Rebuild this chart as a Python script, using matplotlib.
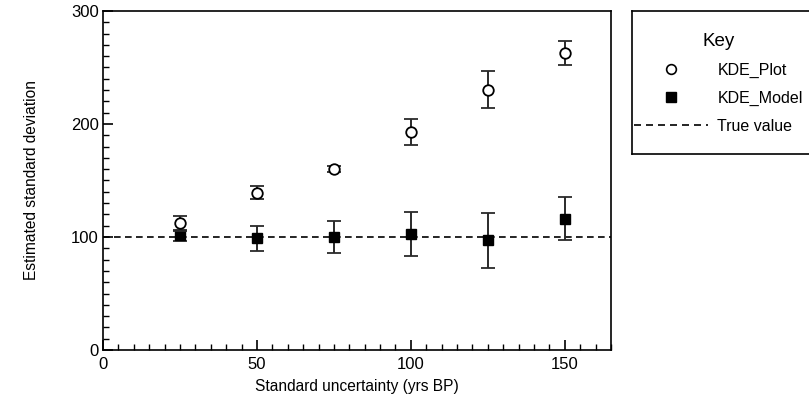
import matplotlib.pyplot as plt
from matplotlib.lines import Line2D
from matplotlib.ticker import MultipleLocator

plt.rcParams['font.family'] = ['Liberation Sans', 'DejaVu Sans']

# data
uncertainty = [25, 50, 75, 100, 125, 150]
kde_plot = [112, 139, 160, 192.5, 230.5, 263]
kde_plot_err = [7, 5.7, 2.5, 11.5, 16.5, 10.5]
kde_model = [101.5, 99, 100, 103, 97, 116]
kde_model_err = [5, 11, 14, 19.5, 24, 19]
true_value = 100

fig = plt.figure(figsize=(8.09, 4.04), dpi=100)
ax = fig.add_axes([103 / 809, 54 / 404, 508 / 809, 339 / 404])

err_kw = dict(ecolor='#2a2a2a', elinewidth=1.4, capsize=5, capthick=1.3, linestyle='none')
ax.axhline(true_value, color='black', lw=1.2, ls=(0, (4, 2.6)), zorder=1)
ax.errorbar(uncertainty, kde_model, yerr=kde_model_err, marker='s', ms=6.8,
            mfc='black', mec='black', zorder=3, **err_kw)
ax.errorbar(uncertainty, kde_plot, yerr=kde_plot_err, marker='o', ms=7.6,
            mfc='white', mec='black', mew=1.3, zorder=4, **err_kw)

ax.set_xlim(0, 165)
ax.set_ylim(0, 300)
ax.xaxis.set_major_locator(MultipleLocator(50))
ax.xaxis.set_minor_locator(MultipleLocator(5))
ax.yaxis.set_major_locator(MultipleLocator(100))
ax.yaxis.set_minor_locator(MultipleLocator(10))
ax.tick_params(which='both', direction='in', top=False, right=False, labelsize=12)
ax.tick_params(which='major', length=7, width=1.2, pad=3)
ax.tick_params(axis='x', which='major', pad=5)
ax.tick_params(which='minor', length=4, width=1)
for s in ax.spines.values():
    s.set_linewidth(1.2)

ax.set_xlabel('Standard uncertainty (yrs BP)', fontsize=11.2, labelpad=5)
ax.set_ylabel('Estimated standard deviation', fontsize=11.2, labelpad=23)

# key box, running off the right edge like the original
kax = fig.add_axes([632 / 809, 250 / 404, 200 / 809, 143 / 404])
kax.set_xticks([])
kax.set_yticks([])
for s in kax.spines.values():
    s.set_linewidth(1.2)

handles = [
    Line2D([], [], marker='o', ls='none', ms=7, mfc='white', mec='black', mew=1.2),
    Line2D([], [], marker='s', ls='none', ms=6.5, mfc='black', mec='black'),
    Line2D([], [], color='black', lw=1.2, ls=(0, (4.2, 3))),
]
leg = kax.legend(handles, ['KDE_Plot', 'KDE_Model', 'True value'],
                 loc='upper left', bbox_to_anchor=(-0.06, 0.945), frameon=False,
                 title='Key', fontsize=11.5, title_fontsize=13.5,
                 handlelength=4.6, handletextpad=0.6, labelspacing=0.8)
leg._legend_box.sep = 9

fig.savefig('out.png', dpi=100)
